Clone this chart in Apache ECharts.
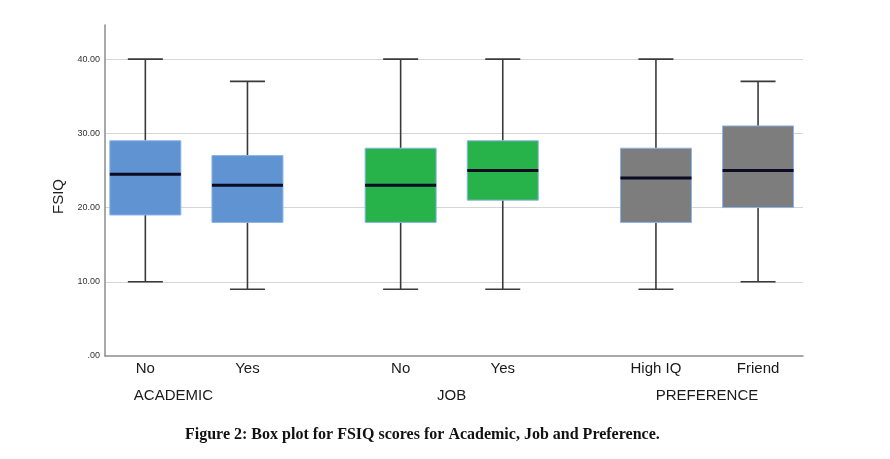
<!DOCTYPE html>
<html>
<head>
<meta charset="utf-8">
<script src="https://cdn.jsdelivr.net/npm/echarts@6/dist/echarts.min.js"></script>
<style>html,body{margin:0;padding:0;background:#fff;}#c{width:890px;height:459px;}</style>
</head>
<body>
<div id="c"></div>
<script>
// ---- data ----
const groups = ['ACADEMIC', 'JOB', 'PREFERENCE'];
const categories = ['No', 'Yes', 'No', 'Yes', 'High IQ', 'Friend'];
const groupOf = [0, 0, 1, 1, 2, 2];
const mins    = [10, 9, 9, 9, 9, 10];
const q1s     = [19, 18, 18, 21, 18, 20];
const medians = [24.5, 23, 23, 25, 24, 25];
const q3s     = [29, 27, 28, 29, 28, 31];
const maxs    = [40, 37, 40, 40, 40, 37];
const yTicks  = [0, 10, 20, 30, 40];

// ---- layout / style (not data) ----
const groupColors = ['#5f93d1', '#27b24a', '#7d7d7d'];
const memberStep = 2, groupStep = 5;
const memberIdx = groupOf.map((g, i) => i - groupOf.indexOf(g));
const pos = groupOf.map((g, i) => g * groupStep + memberIdx[i] * memberStep);
const groupCenters = groups.map((g, gi) => {
  const p = pos.filter((_, i) => groupOf[i] === gi);
  return (Math.min(...p) + Math.max(...p)) / 2;
});
const xMin = -0.79, xMax = 12.88;

const seriesData = categories.map((c, i) => [pos[i], mins[i], q1s[i], medians[i], q3s[i], maxs[i], groupOf[i]]);

function findIdx(list, v) {
  for (let i = 0; i < list.length; i++) if (Math.abs(list[i] - v) < 1e-6) return i;
  return -1;
}

const chart = echarts.init(document.getElementById('c'));
chart.setOption({
  animation: false,
  backgroundColor: '#fff',
  title: {
    text: 'Figure 2: Box plot for FSIQ scores for Academic, Job and Preference.',
    left: 180, top: 422,
    textStyle: { fontFamily: 'Liberation Serif', fontWeight: 'bold', fontSize: 16, color: '#111' }
  },
  grid: { left: 105, right: 87, top: 25, bottom: 103 },
  xAxis: [{
    type: 'value', min: xMin, max: xMax,
    axisLine: { show: true, onZero: false, lineStyle: { color: '#8c8c8c', width: 1.5 } },
    axisTick: { show: false },
    splitLine: { show: false },
    axisLabel: {
      customValues: pos,
      margin: 5,
      fontFamily: 'Liberation Sans', fontSize: 15, color: '#1a1a1a',
      formatter: v => { const i = findIdx(pos, v); return i >= 0 ? categories[i] : ''; }
    }
  }, {
    type: 'value', min: xMin, max: xMax, position: 'bottom', offset: 27,
    axisLine: { show: false }, axisTick: { show: false }, splitLine: { show: false },
    axisLabel: {
      customValues: groupCenters,
      margin: 5,
      fontFamily: 'Liberation Sans', fontSize: 15, color: '#1a1a1a',
      formatter: v => { const i = findIdx(groupCenters, v); return i === 0 ? '{a|' + groups[i] + '}' : (i >= 0 ? groups[i] : ''); },
      rich: { a: { fontFamily: 'Liberation Sans', fontSize: 15, color: '#1a1a1a', padding: [0, 46, 0, 0] } }
    }
  }],
  yAxis: {
    type: 'value', min: 0, max: 44.6, interval: 10,
    name: 'FSIQ', nameLocation: 'middle', nameGap: 36,
    nameTextStyle: { fontFamily: 'Liberation Sans', fontSize: 15, color: '#222', padding: [0, 12, 0, 0] },
    axisLine: { show: true, onZero: false, lineStyle: { color: '#8c8c8c', width: 1.5 } },
    axisTick: { show: false },
    axisLabel: {
      customValues: yTicks,
      margin: 5, fontFamily: 'Liberation Sans', fontSize: 9, color: '#333',
      formatter: v => v === 0 ? '.00' : v.toFixed(2)
    },
    splitLine: { show: true, showMinLine: false, showMaxLine: false, lineStyle: { color: '#d6d6d6', width: 1 } }
  },
  series: [{
    type: 'custom',
    xAxisIndex: 0,
    encode: { x: 0, y: [1, 2, 3, 4, 5] },
    data: seriesData,
    renderItem: function (params, api) {
      const x = api.value(0);
      const pMin = api.coord([x, api.value(1)]);
      const pQ1 = api.coord([x, api.value(2)]);
      const pMed = api.coord([x, api.value(3)]);
      const pQ3 = api.coord([x, api.value(4)]);
      const pMax = api.coord([x, api.value(5)]);
      const cx = pMin[0];
      const boxW = 71, capW = 35;
      const color = groupColors[api.value(6)];
      const wStyle = { stroke: '#3a3a3a', lineWidth: 1.6 };
      return {
        type: 'group',
        children: [
          { type: 'line', shape: { x1: cx, y1: pMin[1], x2: cx, y2: pQ1[1] }, style: wStyle },
          { type: 'line', shape: { x1: cx, y1: pQ3[1], x2: cx, y2: pMax[1] }, style: wStyle },
          { type: 'line', shape: { x1: cx - capW / 2, y1: pMin[1], x2: cx + capW / 2, y2: pMin[1] }, style: wStyle },
          { type: 'line', shape: { x1: cx - capW / 2, y1: pMax[1], x2: cx + capW / 2, y2: pMax[1] }, style: wStyle },
          { type: 'rect', shape: { x: cx - boxW / 2, y: pQ3[1], width: boxW, height: pQ1[1] - pQ3[1] },
            style: { fill: color, stroke: '#8ab4e8', lineWidth: 1 } },
          { type: 'line', shape: { x1: cx - boxW / 2, y1: pMed[1], x2: cx + boxW / 2, y2: pMed[1] },
            style: { stroke: '#0b0b22', lineWidth: 3 } }
        ]
      };
    }
  }]
});
</script>
</body>
</html>
